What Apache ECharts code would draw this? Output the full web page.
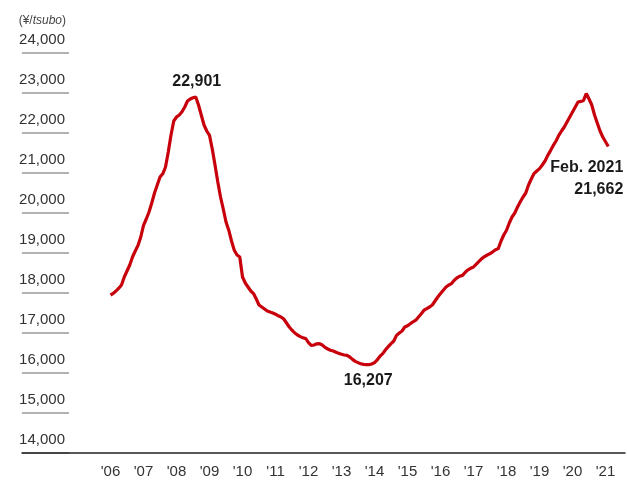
<!DOCTYPE html>
<html>
<head>
<meta charset="utf-8">
<script src="https://cdn.jsdelivr.net/npm/echarts@6/dist/echarts.min.js"></script>
<style>html,body{margin:0;padding:0;background:#fff}#c{width:627px;height:480px}</style>
</head>
<body>
<div id="c"></div>
<script>
// Monthly values, Jan 2006 .. Feb 2021 (yen per tsubo)
var startYear = 2006;
var values = [
  // 2006
  17950, 17990, 18050, 18120, 18200, 18400, 18550, 18700, 18900, 19050, 19190, 19400,
  // 2007
  19690, 19850, 20025, 20250, 20500, 20700, 20900, 20980, 21150, 21525, 21950, 22300,
  // 2008
  22400, 22450, 22530, 22650, 22800, 22850, 22880, 22901, 22700, 22450, 22200, 22050,
  // 2009
  21940, 21600, 21200, 20780, 20400, 20100, 19775, 19570, 19300, 19070, 18950, 18900,
  // 2010
  18400, 18250, 18150, 18050, 17985, 17850, 17700, 17650, 17600, 17550, 17525, 17500,
  // 2011
  17470, 17430, 17400, 17350, 17250, 17150, 17070, 17000, 16950, 16910, 16880, 16860,
  // 2012
  16760, 16690, 16700, 16730, 16735, 16700, 16640, 16600, 16570, 16550, 16520, 16490,
  // 2013
  16470, 16450, 16440, 16400, 16340, 16290, 16260, 16230, 16215, 16207, 16210, 16225,
  // 2014
  16260, 16330, 16420, 16485, 16580, 16660, 16735, 16800, 16940, 17000, 17050, 17150,
  // 2015
  17180, 17230, 17280, 17320, 17400, 17480, 17570, 17610, 17650, 17700, 17800, 17900,
  // 2016
  17985, 18070, 18150, 18200, 18235, 18320, 18380, 18420, 18440, 18520, 18580, 18620,
  // 2017
  18650, 18720, 18790, 18860, 18910, 18950, 18985, 19030, 19080, 19110, 19300, 19450,
  // 2018
  19570, 19750, 19900, 20000, 20150, 20280, 20400, 20500, 20700, 20850, 20985, 21050,
  // 2019
  21110, 21200, 21300, 21440, 21560, 21690, 21800, 21940, 22050, 22150, 22275, 22400,
  // 2020
  22525, 22650, 22775, 22790, 22815, 22985, 22850, 22700, 22450, 22250, 22050, 21900,
  // 2021
  21780, 21662
];
var yearTicks = [2006, 2007, 2008, 2009, 2010, 2011, 2012, 2013, 2014, 2015, 2016, 2017, 2018, 2019, 2020, 2021];
var yTicks = [14000, 15000, 16000, 17000, 18000, 19000, 20000, 21000, 22000, 23000, 24000];
var unitLabel = '(¥/{i|tsubo})';
var peakLabel = '22,901';
var lowLabel = '16,207';
var lastLabel = 'Feb. 2021\n21,662';

var seriesData = values.map(function (v, i) { return [startYear + i / 12, v]; });
function idxOfMax(a, from, to) { var b = from; for (var i = from; i <= to; i++) if (a[i] > a[b]) b = i; return b; }
function idxOfMin(a) { var b = 0; for (var i = 0; i < a.length; i++) if (a[i] < a[b]) b = i; return b; }
var iPeak = idxOfMax(values, 0, 60);
var iLow = idxOfMin(values);
var iLast = values.length - 1;

var FONT = "'Liberation Sans', Arial, sans-serif";

var chart = echarts.init(document.getElementById('c'), null, { renderer: 'canvas' });
chart.setOption({
  animation: false,
  backgroundColor: '#fff',
  grid: [
    { left: 22, right: 2, top: 53, bottom: 27 },
    { left: 22, width: 47, top: 53, bottom: 27 }
  ],
  xAxis: [
    {
      type: 'value', gridIndex: 0, min: 2003.318, max: 2021.59,
      axisLine: { show: true, lineStyle: { color: '#222', width: 1.5 } },
      axisTick: { show: false },
      splitLine: { show: false },
      axisLabel: {
        customValues: yearTicks,
        formatter: function (v) { return "'" + String(Math.round(v)).slice(2); },
        color: '#333', fontSize: 15, fontFamily: FONT, margin: 11
      }
    },
    { type: 'value', gridIndex: 1, show: false, min: 0, max: 1 }
  ],
  yAxis: [
    { type: 'value', gridIndex: 0, min: 14000, max: 24000, show: false },
    {
      type: 'value', gridIndex: 1, min: 14000, max: 24000, interval: 1000, position: 'right',
      axisLine: { show: false }, axisTick: { show: false },
      splitLine: { show: true, lineStyle: { color: '#9a9a9a', width: 1.5 } },
      axisLabel: {
        inside: true, margin: 4, align: 'right', verticalAlign: 'bottom',
        lineHeight: 15, padding: [0, 0, 6, 0],
        color: '#333', fontSize: 15, fontFamily: FONT,
        formatter: function (v) { return echarts.format.addCommas(v); }
      }
    }
  ],
  graphic: [{
    type: 'text', right: 627 - 66, top: 15,
    style: {
      text: unitLabel, fill: '#444', fontSize: 12, fontFamily: FONT,
      rich: { i: { fontStyle: 'italic', fontSize: 12, fill: '#444', fontFamily: FONT } }
    }
  }],
  series: [{
    type: 'line', xAxisIndex: 0, yAxisIndex: 0,
    data: seriesData, showSymbol: false, symbol: 'none', smooth: false,
    lineStyle: { color: '#c8000b', width: 3.2 },
    markPoint: {
      symbol: 'circle', symbolSize: 0,
      label: { show: true, color: '#1a1a1a', fontWeight: 'bold', fontSize: 16, fontFamily: FONT },
      data: [
        { coord: seriesData[iPeak], value: peakLabel,
          label: { formatter: peakLabel, position: 'inside', offset: [1, -15] } },
        { coord: seriesData[iLow], value: lowLabel,
          label: { formatter: lowLabel, position: 'inside', offset: [2, 16] } },
        { coord: seriesData[iLast], value: lastLabel,
          label: { formatter: lastLabel, position: 'inside', align: 'right', verticalAlign: 'top',
                   lineHeight: 22, offset: [15, 10] } }
      ]
    }
  }]
});
</script>
</body>
</html>
